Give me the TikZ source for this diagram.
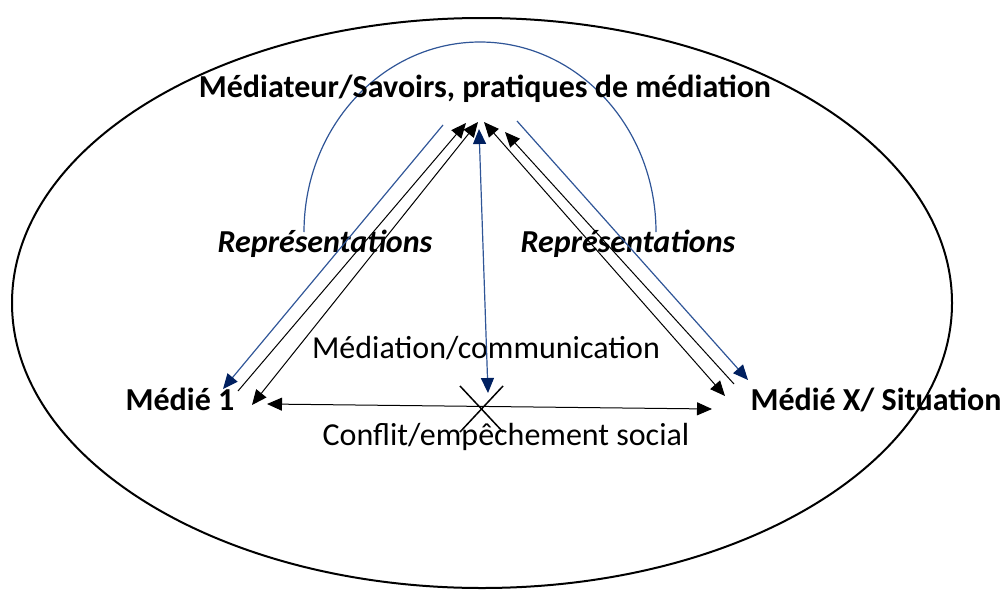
\documentclass[tikz,border=0pt]{standalone}
\usepackage{fontspec}
\setmainfont{Carlito}
\usetikzlibrary{arrows.meta}
\definecolor{arcblue}{RGB}{47,85,151}
\definecolor{tipblue}{RGB}{0,32,96}

\begin{document}
\begin{tikzpicture}[x=1pt,y=-1pt,
    lbl/.style={font=\fontsize{32}{36}\selectfont, anchor=base},
    bold/.style={font=\fontsize{32}{36}\selectfont\bfseries, anchor=base},
    rep/.style={font=\fontsize{32}{36}\selectfont\bfseries\itshape, anchor=base},
    blk/.style={black, line width=1pt},
    blu/.style={arcblue, line width=1.2pt},
    tipk/.style={-{Triangle[length=15pt,width=13pt]}},
    tipkk/.style={{Triangle[length=15pt,width=13pt]}-{Triangle[length=15pt,width=13pt]}},
    tipb/.style={-{Triangle[length=15pt,width=13pt,color=tipblue]}},
    tipbb/.style={{Triangle[length=15pt,width=13pt,color=tipblue]}-{Triangle[length=15pt,width=13pt,color=tipblue]}}]
    \useasboundingbox (0,0) rectangle (1003,589);

    % outer ellipse and the arc round the top
    \draw[line width=2pt] (482,303) ellipse [x radius=470pt, y radius=285pt];
    \draw[blu] (304,232) arc[start angle=180, end angle=0, x radius=176pt, y radius=190pt];

    % texts
    \node[bold] (med) at (485,97) {Médiateur/Savoirs, pratiques de médiation};
    \node[bold] (m1) at (180,410) {Médié 1};
    \node[bold] (mx) at (876,410) {Médié X/ Situation};
    \node[rep] (repl) at (325,252) {Représentations};
    \node[rep] (repr) at (628,252) {Représentations};
    \node[lbl] (comm) at (486,358) {Médiation/communication};
    \node[lbl] (conf) at (506,445) {Conflit/empêchement social};

    % ends of the connectors
    \coordinate (l1top) at (443,125);  \coordinate (l1bot) at (223,389);
    \coordinate (l2top) at (466,123);  \coordinate (l2bot) at (238,391);
    \coordinate (l3top) at (478,122);  \coordinate (l3bot) at (252,405);
    \coordinate (r4top) at (484,122);  \coordinate (r4bot) at (725,396);
    \coordinate (r5top) at (505,132);  \coordinate (r5bot) at (734,384);
    \coordinate (r6top) at (517,121);  \coordinate (r6bot) at (748,380);
    \coordinate (ctop) at (479,129);   \coordinate (cbot) at (488,393);
    \coordinate (hleft) at (267,404);  \coordinate (hright) at (712,409);

    % left side
    \draw[blu,tipb] (l1top) -- (l1bot);
    \draw[blk,tipk] (l2bot) -- (l2top);
    \draw[blk,tipkk] (l3top) -- (l3bot);
    % right side
    \draw[blk,tipkk] (r4top) -- (r4bot);
    \draw[blk,tipk] (r5bot) -- (r5top);
    \draw[blu,tipb] (r6top) -- (r6bot);
    % middle
    \draw[blu,tipbb] (ctop) -- (cbot);
    \draw[blk,tipkk] (hleft) -- (hright);

    % the cross
    \draw[line width=1.5pt] (460,386) -- (503,432);
    \draw[line width=1.5pt] (503,386) -- (460,432);
\end{tikzpicture}
\end{document}
